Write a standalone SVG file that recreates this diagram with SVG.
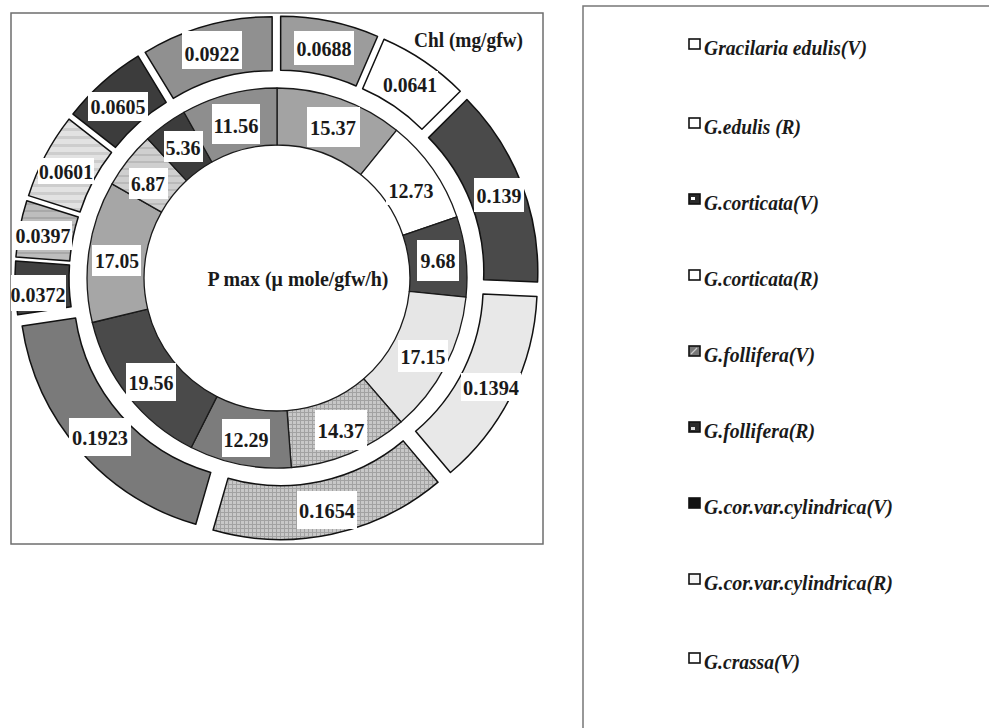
<svg xmlns="http://www.w3.org/2000/svg" width="989" height="728" viewBox="0 0 989 728">
<defs>
<pattern id="hatch" width="4" height="4" patternUnits="userSpaceOnUse"><rect width="4" height="4" fill="#c8c8c8"/><path d="M0 0.5H4M0.5 0V4" stroke="#a2a2a2" stroke-width="1"/></pattern>
<pattern id="stripeA" width="8" height="7" patternUnits="userSpaceOnUse"><rect width="8" height="7" fill="#bdbdbd"/><rect width="8" height="2" fill="#a8a8a8"/></pattern>
<pattern id="stripeB" width="8" height="8" patternUnits="userSpaceOnUse"><rect width="8" height="8" fill="#e2e2e2"/><rect width="8" height="3" fill="#cdcdcd"/></pattern>
<pattern id="stripeC" width="8" height="7" patternUnits="userSpaceOnUse"><rect width="8" height="7" fill="#cfcfcf"/><rect width="8" height="2" fill="#bababa"/></pattern>
<clipPath id="frameClip"><rect x="11" y="13" width="532" height="531"/></clipPath>
</defs>
<style>
.seg{stroke:#111;stroke-width:1.5;stroke-linejoin:round}
.iseg{stroke:#1a1a1a;stroke-width:1.3;stroke-linejoin:round}
.box{fill:#fff}
.lbl{font-family:"Liberation Serif","Times New Roman",serif;font-weight:bold;font-size:22px;fill:#1a1a1a;text-anchor:middle}
.ttl{font-family:"Liberation Serif","Times New Roman",serif;font-weight:bold;font-size:21px;fill:#1a1a1a}
.leg{font-family:"Liberation Serif","Times New Roman",serif;font-weight:bold;font-style:italic;font-size:22px;fill:#1a1a1a}
.sq{stroke:#111;stroke-width:1.6}
</style>
<rect width="989" height="728" fill="#fff"/>

<g id="chart-panel">
<rect x="11" y="13" width="532" height="531" fill="#fff" stroke="#6e6e6e" stroke-width="1.5"/>
<g clip-path="url(#frameClip)">
<g id="inner-ring">
<path class="iseg" fill="#a3a3a3" d="M277,88 A190,190 0 0 1 396.5,130.3 L360.7,174.6 A133,133 0 0 0 277,145 Z"/>
<path class="iseg" fill="#ffffff" d="M396.5,130.3 A190,190 0 0 1 456.9,216.9 L402.9,235.3 A133,133 0 0 0 360.7,174.6 Z"/>
<path class="iseg" fill="#4a4a4a" d="M456.9,216.9 A190,190 0 0 1 466,297.2 L409.3,291.4 A133,133 0 0 0 402.9,235.3 Z"/>
<path class="iseg" fill="#e6e6e6" d="M466,297.2 A190,190 0 0 1 401,422 L363.8,378.8 A133,133 0 0 0 409.3,291.4 Z"/>
<path class="iseg" fill="url(#hatch)" d="M401,422 A190,190 0 0 1 291.3,467.5 L287,410.6 A133,133 0 0 0 363.8,378.8 Z"/>
<path class="iseg" fill="#7c7c7c" d="M291.3,467.5 A190,190 0 0 1 191.2,447.5 L216.9,396.6 A133,133 0 0 0 287,410.6 Z"/>
<path class="iseg" fill="#4a4a4a" d="M191.2,447.5 A190,190 0 0 1 92.3,322.5 L147.7,309.1 A133,133 0 0 0 216.9,396.6 Z"/>
<path class="iseg" fill="#a6a6a6" d="M92.3,322.5 A190,190 0 0 1 112,183.9 L161.5,212.1 A133,133 0 0 0 147.7,309.1 Z"/>
<path class="iseg" fill="url(#stripeC)" d="M112,183.9 A190,190 0 0 1 147.7,138.8 L186.5,180.6 A133,133 0 0 0 161.5,212.1 Z"/>
<path class="iseg" fill="#3c3c3c" d="M147.7,138.8 A190,190 0 0 1 184,112.3 L211.9,162 A133,133 0 0 0 186.5,180.6 Z"/>
<path class="iseg" fill="#8e8e8e" d="M184,112.3 A190,190 0 0 1 277,88 L277,145 A133,133 0 0 0 211.9,162 Z"/>
</g>
<g id="outer-ring">
<path class="seg" fill="#9c9c9c" d="M280.65,16.37 A244,244 0 0 1 377.54,36.43 L356.1,85.99 A190,190 0 0 0 280.65,70.37 Z"/>
<path class="seg" fill="#ffffff" d="M384.03,39.19 A244,244 0 0 1 460.26,91.18 L421.95,129.24 A190,190 0 0 0 362.59,88.75 Z"/>
<path class="seg" fill="#4a4a4a" d="M466.91,99.55 A244,244 0 0 1 537.57,281.97 L483.62,279.65 A190,190 0 0 0 428.6,137.61 Z"/>
<path class="seg" fill="#e8e8e8" d="M536.94,296.41 A244,244 0 0 1 450.44,472.48 L415.63,431.2 A190,190 0 0 0 482.99,294.09 Z"/>
<path class="seg" fill="url(#hatch)" d="M438.03,482.15 A244,244 0 0 1 213.09,530.05 L228.06,478.16 A190,190 0 0 0 403.22,440.87 Z"/>
<path class="seg" fill="#7a7a7a" d="M195.8,524.3 A244,244 0 0 1 22.14,325.97 L75.55,317.98 A190,190 0 0 0 210.77,472.41 Z"/>
<path class="seg" fill="#404040" d="M17.69,314.79 A244,244 0 0 1 15.64,261.06 L69.5,264.96 A190,190 0 0 0 71.1,306.8 Z"/>
<path class="seg" fill="url(#stripeA)" d="M15.95,256.98 A244,244 0 0 1 26.79,200.67 L78.25,217.03 A190,190 0 0 0 69.81,260.88 Z"/>
<path class="seg" fill="url(#stripeB)" d="M28.56,195.66 A244,244 0 0 1 69.01,119.12 L111.52,152.42 A190,190 0 0 0 80.02,212.02 Z"/>
<path class="seg" fill="#3c3c3c" d="M72.96,114.08 A244,244 0 0 1 138.11,56.15 L166.2,102.27 A190,190 0 0 0 115.47,147.38 Z"/>
<path class="seg" fill="#909090" d="M145.21,52.27 A244,244 0 0 1 272.14,16.67 L272.14,70.67 A190,190 0 0 0 173.3,98.39 Z"/>
</g>
<g id="outer-labels">
<rect class="box" x="294" y="31" width="60" height="34"/><text class="lbl" x="324" y="56" textLength="55" lengthAdjust="spacingAndGlyphs">0.0688</text>
<rect class="box" x="382" y="71" width="56" height="26"/><text class="lbl" x="410" y="92" textLength="54" lengthAdjust="spacingAndGlyphs">0.0641</text>
<rect class="box" x="474" y="178" width="50" height="34"/><text class="lbl" x="499" y="203" textLength="45" lengthAdjust="spacingAndGlyphs">0.139</text>
<rect class="box" x="461" y="373" width="60" height="28"/><text class="lbl" x="491" y="395" textLength="56" lengthAdjust="spacingAndGlyphs">0.1394</text>
<rect class="box" x="297" y="491" width="60" height="38"/><text class="lbl" x="327" y="518" textLength="56" lengthAdjust="spacingAndGlyphs">0.1654</text>
<rect class="box" x="69" y="418" width="62" height="38"/><text class="lbl" x="100" y="445" textLength="56" lengthAdjust="spacingAndGlyphs">0.1923</text>
<rect class="box" x="10" y="275" width="56" height="36"/><text class="lbl" x="38" y="302" textLength="55" lengthAdjust="spacingAndGlyphs">0.0372</text>
<rect class="box" x="14" y="221" width="58" height="29"/><text class="lbl" x="43" y="243" textLength="55" lengthAdjust="spacingAndGlyphs">0.0397</text>
<rect class="box" x="38" y="158" width="56" height="26"/><text class="lbl" x="66" y="179" textLength="54" lengthAdjust="spacingAndGlyphs">0.0601</text>
<rect class="box" x="88" y="92" width="60" height="29"/><text class="lbl" x="118" y="114" textLength="55" lengthAdjust="spacingAndGlyphs">0.0605</text>
<rect class="box" x="182" y="31" width="60" height="38"/><text class="lbl" x="212" y="61" textLength="55" lengthAdjust="spacingAndGlyphs">0.0922</text>
</g>
<g id="inner-labels">
<rect class="box" x="307" y="107" width="53" height="40"/><text class="lbl" x="333" y="135" textLength="46" lengthAdjust="spacingAndGlyphs">15.37</text>
<rect class="box" x="386" y="175" width="50" height="30"/><text class="lbl" x="411" y="198" textLength="45" lengthAdjust="spacingAndGlyphs">12.73</text>
<rect class="box" x="417" y="240" width="42" height="41"/><text class="lbl" x="438" y="268" textLength="35" lengthAdjust="spacingAndGlyphs">9.68</text>
<rect class="box" x="398" y="340" width="50" height="32"/><text class="lbl" x="423" y="364" textLength="45" lengthAdjust="spacingAndGlyphs">17.15</text>
<rect class="box" x="315" y="410" width="52" height="40"/><text class="lbl" x="341" y="438" textLength="47" lengthAdjust="spacingAndGlyphs">14.37</text>
<rect class="box" x="222" y="419" width="48" height="38"/><text class="lbl" x="246" y="447" textLength="45" lengthAdjust="spacingAndGlyphs">12.29</text>
<rect class="box" x="126" y="363" width="50" height="38"/><text class="lbl" x="151" y="390" textLength="45" lengthAdjust="spacingAndGlyphs">19.56</text>
<rect class="box" x="92" y="245" width="49" height="31"/><text class="lbl" x="117" y="268" textLength="44" lengthAdjust="spacingAndGlyphs">17.05</text>
<rect class="box" x="129" y="168" width="39" height="31"/><text class="lbl" x="148" y="191" textLength="34" lengthAdjust="spacingAndGlyphs">6.87</text>
<rect class="box" x="164" y="131" width="39" height="31"/><text class="lbl" x="183" y="155" textLength="35" lengthAdjust="spacingAndGlyphs">5.36</text>
<rect class="box" x="212" y="104" width="48" height="40"/><text class="lbl" x="236" y="133" textLength="45" lengthAdjust="spacingAndGlyphs">11.56</text>
</g>
</g>
<text class="ttl" x="414" y="47" textLength="109" lengthAdjust="spacingAndGlyphs">Chl (mg/gfw)</text>
<text class="ttl" x="298" y="286" text-anchor="middle" textLength="181" lengthAdjust="spacingAndGlyphs">P max (μ mole/gfw/h)</text>
</g>

<g id="legend">
<path d="M583,728 V6 H989" fill="none" stroke="#777" stroke-width="1.5"/>
<g id="leg1"><rect class="sq" x="689" y="39" width="11" height="10" fill="#fff"/><text class="leg" x="704" y="55" textLength="163" lengthAdjust="spacingAndGlyphs">Gracilaria edulis(V)</text></g>
<g id="leg2"><rect class="sq" x="689" y="118" width="11" height="10" fill="#fff"/><text class="leg" x="704" y="134" textLength="97" lengthAdjust="spacingAndGlyphs">G.edulis (R)</text></g>
<g id="leg3"><rect class="sq" x="689" y="194" width="11" height="10" fill="#2a2a2a"/><rect x="691" y="197" width="4" height="3" fill="#fff"/><text class="leg" x="704" y="210" textLength="115" lengthAdjust="spacingAndGlyphs">G.corticata(V)</text></g>
<g id="leg4"><rect class="sq" x="689" y="270" width="11" height="10" fill="#fff"/><text class="leg" x="704" y="286" textLength="115" lengthAdjust="spacingAndGlyphs">G.corticata(R)</text></g>
<g id="leg5"><rect class="sq" x="689" y="346" width="11" height="10" fill="#777"/><path d="M691,354 L697,348" stroke="#ccc" stroke-width="1.2"/><text class="leg" x="704" y="362" textLength="111" lengthAdjust="spacingAndGlyphs">G.follifera(V)</text></g>
<g id="leg6"><rect class="sq" x="689" y="422" width="11" height="10" fill="#2a2a2a"/><rect x="691" y="427" width="4" height="3" fill="#ddd"/><text class="leg" x="704" y="438" textLength="111" lengthAdjust="spacingAndGlyphs">G.follifera(R)</text></g>
<g id="leg7"><rect class="sq" x="689" y="498" width="11" height="10" fill="#111"/><text class="leg" x="704" y="514" textLength="189" lengthAdjust="spacingAndGlyphs">G.cor.var.cylindrica(V)</text></g>
<g id="leg8"><rect class="sq" x="689" y="574" width="11" height="10" fill="#f4f4f4"/><text class="leg" x="704" y="590" textLength="189" lengthAdjust="spacingAndGlyphs">G.cor.var.cylindrica(R)</text></g>
<g id="leg9"><rect class="sq" x="689" y="653" width="11" height="10" fill="#fff"/><text class="leg" x="704" y="669" textLength="96" lengthAdjust="spacingAndGlyphs">G.crassa(V)</text></g>
</g>
</svg>
